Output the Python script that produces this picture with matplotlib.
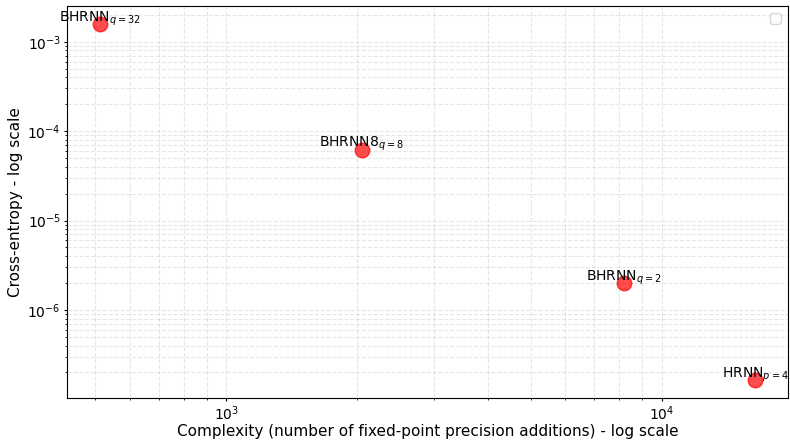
import matplotlib
matplotlib.use("Agg")
import matplotlib.pyplot as plt

names = [r"BHRNN$_{q=32}$", r"BHRNN8$_{q=8}$", r"BHRNN$_{q=2}$", r"HRNN$_{p=4}$"]
complexity = [512, 2048, 8192, 16384]
cross_entropy = [1.58e-3, 6.2e-5, 2.0e-6, 1.65e-7]

fig, ax = plt.subplots(figsize=(7.9, 4.4), dpi=100)
ax.scatter(complexity, cross_entropy, s=110, color="red", alpha=0.7, zorder=3)
for n, x, y in zip(names, complexity, cross_entropy):
    ax.annotate(n, (x, y), xytext=(0, 2), textcoords="offset points",
                ha="center", va="baseline", fontsize=10)
ax.set_xscale("log")
ax.set_yscale("log")
ax.set_xlabel("Complexity (number of fixed-point precision additions) - log scale",
              fontsize=11, labelpad=1)
ax.set_ylabel("Cross-entropy - log scale", fontsize=11, labelpad=3)
ax.tick_params(which="major", labelsize=10, length=2.5, pad=2)
ax.tick_params(which="minor", length=1.5)
ax.grid(True, which="both", linestyle="--", alpha=0.3)
ax.legend()
fig.subplots_adjust(left=0.085, right=0.997, top=0.986, bottom=0.096)
fig.savefig("out.png", dpi=100)
